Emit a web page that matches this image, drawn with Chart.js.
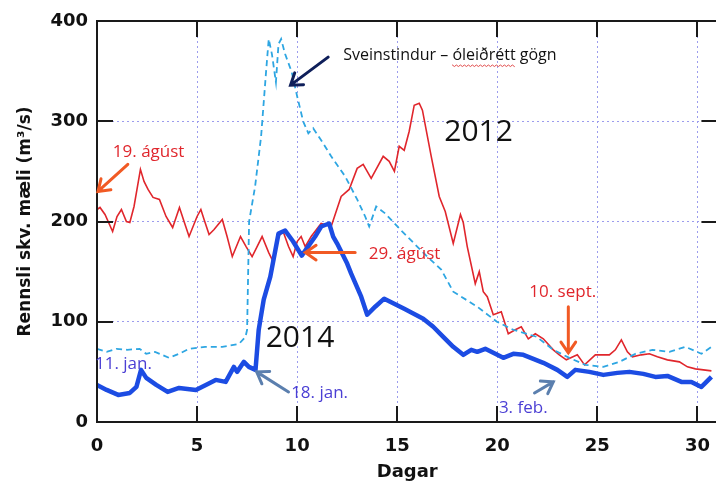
<!DOCTYPE html>
<html>
<head>
<meta charset="utf-8">
<script src="https://cdn.jsdelivr.net/npm/chart.js@4/dist/chart.umd.min.js"></script>
<style>
  html, body { margin: 0; padding: 0; background: #fff; overflow: hidden; }
  #wrap { width: 724px; height: 484px; }
</style>
</head>
<body>
<div id="wrap"><canvas id="rennsliChart"></canvas></div>
<script>
// 2012 (rautt)
const dagar2012 = [0, 0.15, 0.4, 0.78, 1.0, 1.22, 1.47, 1.64, 1.85, 2.17, 2.35, 2.55, 2.8, 3.12, 3.45, 3.78, 4.12, 4.35, 4.6, 5.0,
  5.19, 5.35, 5.6, 5.85, 6.26, 6.5, 6.76, 7.17, 7.45, 7.75, 8.0, 8.25, 8.58, 8.8, 9.07, 9.3, 9.57, 9.8, 10.0, 10.2,
  10.4, 10.7, 11.2, 11.7, 12.2, 12.6, 13.0, 13.3, 13.7, 14.3, 14.6, 14.86, 15.1, 15.35, 15.6, 15.85, 16.1, 16.26, 16.7, 17.1,
  17.4, 17.8, 18.16, 18.3, 18.5, 18.9, 19.1, 19.3, 19.5, 19.8, 20.2, 20.55, 20.9, 21.2, 21.55, 21.9, 22.3, 22.8, 23.1, 23.45,
  24.0, 24.36, 24.9, 25.6, 25.9, 26.2, 26.5, 26.75, 27.2, 27.6, 28.0, 28.5, 29.1, 29.5, 29.9, 30.7];
const rennsli2012 = [212, 214, 207, 190, 205, 212, 200, 199, 215, 252, 240, 232, 224, 222, 205, 194, 214, 200, 185, 205,
  212, 202, 187, 192, 202, 185, 165, 185, 175, 165, 175, 185, 169, 160, 185, 190, 175, 165, 180, 185,
  175, 185, 198, 195, 225, 232, 253, 257, 243, 265, 260, 250, 275, 271, 290, 316, 318, 311, 265, 225,
  210, 178, 207, 199, 175, 138, 150, 130, 125, 107, 110, 88, 92, 95, 83, 88, 83, 72, 67, 62,
  67, 57, 67, 67, 72, 82, 70, 65, 67, 68, 65, 62, 60, 55, 53, 51];

// Sveinstindur - óleiðrétt gögn (brotin lína)
const dagarSv = [0, 0.48, 0.97, 1.5, 2.13, 2.46, 2.9, 3.6, 4.1, 4.6, 5.4, 6.26, 7.1, 7.42, 7.5, 7.6, 7.9, 8.2, 8.45, 8.58,
  8.74, 8.94, 9.07, 9.2, 9.4, 9.73, 10.0, 10.3, 10.56, 10.8, 11.3, 11.7, 12.4, 13.0, 13.4, 13.6, 13.95, 14.4, 15.2, 15.85,
  16.5, 17.2, 17.8, 19.0, 19.98, 20.8, 21.96, 22.8, 23.6, 24.4, 25.3, 26.1, 26.9, 27.75, 28.6, 29.4, 30.2, 30.7];
const rennsliSv = [73, 70, 73, 72, 73, 68, 70, 64, 68, 73, 75, 75, 78, 85, 92, 200, 235, 285, 350, 382,
  367, 339, 377, 382, 367, 349, 325, 300, 288, 293, 278, 265, 245, 222, 205, 195, 215, 208, 191, 178,
  165, 152, 130, 115, 100, 92, 85, 72, 64, 57, 55, 60, 68, 72, 70, 75, 68, 75];

// 2014 (blátt, þykkt)
const dagar2014 = [0, 0.48, 1.06, 1.64, 1.97, 2.2, 2.46, 2.96, 3.53, 4.1, 4.94, 5.44, 5.93, 6.43, 6.84, 7.0, 7.34, 7.59, 7.92, 8.08,
  8.33, 8.66, 9.07, 9.4, 9.8, 10.23, 10.9, 11.2, 11.6, 11.8, 12.0, 12.5, 12.7, 13.2, 13.5, 13.9, 14.35, 15.35, 16.3, 16.8,
  17.3, 17.8, 18.3, 18.7, 19.0, 19.4, 20.3, 20.8, 21.3, 22.3, 23.0, 23.5, 23.9, 24.6, 25.3, 26.0, 26.6, 27.3, 27.9, 28.5,
  29.2, 29.7, 30.2, 30.7];
const rennsli2014 = [37, 32, 27, 29, 35, 52, 44, 37, 30, 34, 32, 37, 42, 40, 55, 50, 60, 55, 52, 92,
  122, 145, 188, 191, 180, 166, 185, 195, 198, 185, 178, 158, 148, 125, 107, 115, 123, 113, 103, 95,
  85, 75, 67, 72, 70, 73, 64, 68, 67, 59, 52, 45, 52, 50, 47, 49, 50, 48, 45, 46,
  40, 40, 35, 45];

const dagarTicks = [0, 5, 10, 15, 20, 25, 30];
const rennsliTicks = [0, 100, 200, 300, 400];

const toPoints = (xs, ys) => xs.map((x, i) => ({ x: x, y: ys[i] }));

// skýringartextar og örvar (í hnitum grafsins)
const RED = '#e0262c', ORANGE = '#f15a24', BLUE_TXT = '#4b3fd4', STEEL = '#5b7fae';
const skyringar = [
  { text: 'Sveinstindur – óleiðrétt gögn', x: 12.3, y: 366, color: '#111', size: 16, squiggle: 'óleiðrétt' },
  { text: '2012', x: 17.35, y: 289, color: '#111', size: 30 },
  { text: '2014', x: 8.43, y: 83, color: '#111', size: 30 },
  { text: '19. ágúst', x: 0.79, y: 269, color: RED, size: 17 },
  { text: '29. ágúst', x: 13.58, y: 167, color: RED, size: 17 },
  { text: '10. sept.', x: 21.6, y: 130, color: RED, size: 17 },
  { text: '11. jan.', x: -0.1, y: 58, color: BLUE_TXT, size: 17 },
  { text: '18. jan.', x: 9.7, y: 29, color: BLUE_TXT, size: 17 },
  { text: '3. feb.', x: 20.08, y: 14, color: BLUE_TXT, size: 17 }
];
const orvar = [
  { from: [11.55, 364], to: [9.67, 336], color: '#0f1f5a' },
  { from: [1.54, 257], to: [0.05, 230], color: ORANGE },
  { from: [12.9, 169], to: [10.41, 169], color: ORANGE },
  { from: [23.55, 115], to: [23.55, 69], color: ORANGE },
  { from: [9.57, 30], to: [7.98, 50], color: STEEL },
  { from: [21.86, 29], to: [22.8, 40], color: STEEL }
];

const rammiPlugin = {
  id: 'rammi',
  afterDraw(chart) {
    const { ctx, chartArea: a, scales: { x, y } } = chart;
    ctx.save();
    ctx.strokeStyle = '#1a1a1a';
    ctx.lineWidth = 2;
    ctx.strokeRect(a.left, a.top, a.right - a.left, a.bottom - a.top);
    const tl = 16;
    ctx.beginPath();
    dagarTicks.slice(1).forEach(v => {
      const px = Math.round(x.getPixelForValue(v));
      ctx.moveTo(px, a.bottom); ctx.lineTo(px, a.bottom - tl);
      ctx.moveTo(px, a.top); ctx.lineTo(px, a.top + tl);
    });
    rennsliTicks.slice(1, -1).forEach(v => {
      const py = Math.round(y.getPixelForValue(v));
      ctx.moveTo(a.left, py); ctx.lineTo(a.left + tl, py);
      ctx.moveTo(a.right, py); ctx.lineTo(a.right - tl, py);
    });
    ctx.stroke();

    // örvar
    orvar.forEach(o => {
      const x1 = x.getPixelForValue(o.from[0]), y1 = y.getPixelForValue(o.from[1]);
      const x2 = x.getPixelForValue(o.to[0]), y2 = y.getPixelForValue(o.to[1]);
      const ang = Math.atan2(y2 - y1, x2 - x1);
      const hl = 13, ha = 0.6;
      ctx.strokeStyle = o.color;
      ctx.lineWidth = 3;
      ctx.lineCap = 'round';
      ctx.beginPath();
      ctx.moveTo(x1, y1); ctx.lineTo(x2, y2);
      ctx.moveTo(x2 - hl * Math.cos(ang - ha), y2 - hl * Math.sin(ang - ha));
      ctx.lineTo(x2, y2);
      ctx.lineTo(x2 - hl * Math.cos(ang + ha), y2 - hl * Math.sin(ang + ha));
      ctx.stroke();
    });

    // textar
    ctx.textBaseline = 'middle';
    ctx.textAlign = 'left';
    skyringar.forEach(s => {
      const px = x.getPixelForValue(s.x), py = y.getPixelForValue(s.y);
      ctx.font = s.size + 'px "Open Sans"';
      ctx.fillStyle = s.color;
      ctx.fillText(s.text, px, py);
      if (s.squiggle) {
        // rauð bylgjulína undir orðinu (stafsetningarvilla)
        const start = s.text.indexOf(s.squiggle);
        const x0 = px + ctx.measureText(s.text.slice(0, start)).width;
        const w = ctx.measureText(s.squiggle).width;
        const yb = py + s.size * 0.62;
        ctx.strokeStyle = '#e04848';
        ctx.lineWidth = 1;
        ctx.beginPath();
        for (let i = 0; i <= w; i += 2) {
          const yy = yb + (i % 4 === 0 ? 0 : 1.5);
          if (i === 0) ctx.moveTo(x0 + i, yy); else ctx.lineTo(x0 + i, yy);
        }
        ctx.stroke();
      }
    });
    ctx.restore();
  }
};

const gridOpts = {
  color: '#9c9cee',
  lineWidth: 1,
  drawTicks: false
};

new Chart(document.getElementById('rennsliChart'), {
  type: 'line',
  data: {
    datasets: [
      {
        label: '2014',
        data: toPoints(dagar2014, rennsli2014),
        borderColor: '#1c4ce3',
        borderWidth: 4.5,
        pointRadius: 0,
        tension: 0,
        borderJoinStyle: 'round',
        order: 0
      },
      {
        label: 'Sveinstindur – óleiðrétt gögn',
        data: toPoints(dagarSv, rennsliSv),
        borderColor: '#2ea6e2',
        borderWidth: 1.8,
        borderDash: [6, 4],
        pointRadius: 0,
        tension: 0,
        order: 1
      },
      {
        label: '2012',
        data: toPoints(dagar2012, rennsli2012),
        borderColor: RED,
        borderWidth: 1.6,
        pointRadius: 0,
        tension: 0,
        order: 2
      }
    ]
  },
  options: {
    responsive: true,
    maintainAspectRatio: false,
    animation: false,
    layout: { padding: { top: 21, right: 2, left: 0, bottom: 0 } },
    plugins: {
      legend: { display: false },
      tooltip: { enabled: false }
    },
    scales: {
      x: {
        type: 'linear',
        min: 0,
        max: 31,
        afterBuildTicks: s => { s.ticks = dagarTicks.map(v => ({ value: v })); },
        afterFit: s => { s.height = 62; },
        grid: gridOpts,
        border: { display: false, dash: [2, 3] },
        ticks: {
          padding: 14,
          color: '#111',
          font: { family: 'DejaVu Sans', weight: 'bold', size: 18 },
          maxRotation: 0
        },
        title: {
          display: true,
          text: 'Dagar',
          color: '#111',
          font: { family: 'DejaVu Sans', weight: 'bold', size: 18 },
          padding: { top: 0, bottom: 1 }
        }
      },
      y: {
        min: 0,
        max: 400,
        afterBuildTicks: s => { s.ticks = rennsliTicks.map(v => ({ value: v })); },
        afterFit: s => { s.width = 97; },
        grid: gridOpts,
        border: { display: false, dash: [2, 3] },
        ticks: {
          padding: 9,
          color: '#111',
          font: { family: 'DejaVu Sans', weight: 'bold', size: 18 }
        },
        title: {
          display: true,
          text: 'Rennsli skv. mæli (m³/s)',
          color: '#111',
          font: { family: 'DejaVu Sans', weight: 'bold', size: 17 },
          padding: { top: 15, bottom: 0 }
        }
      }
    }
  },
  plugins: [rammiPlugin]
});
</script>
</body>
</html>
